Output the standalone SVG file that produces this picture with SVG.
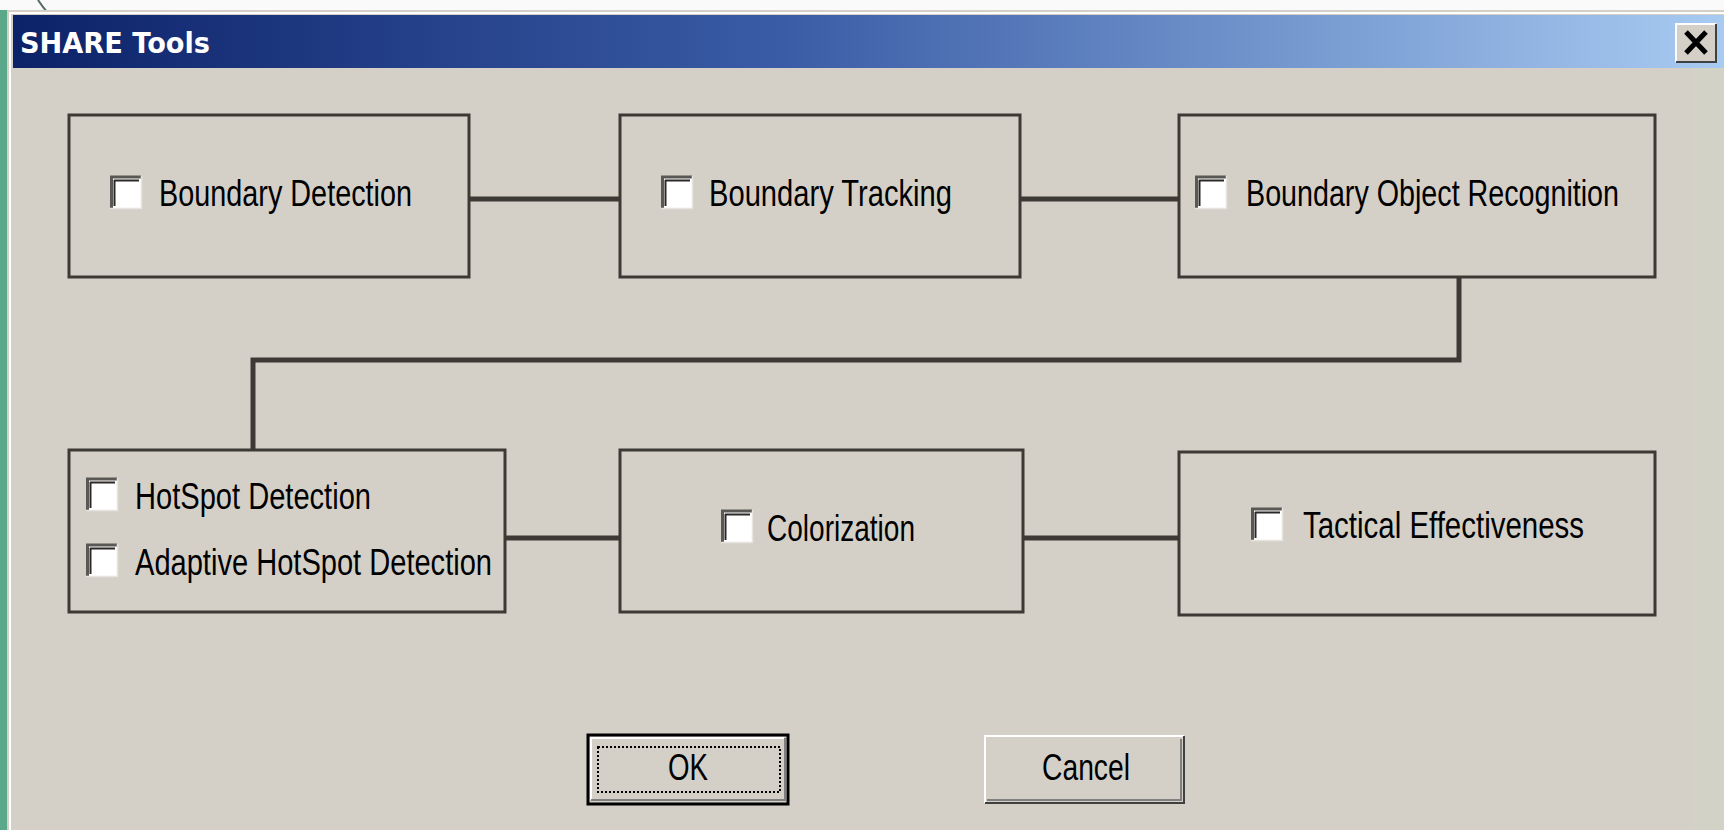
<svg xmlns="http://www.w3.org/2000/svg" width="1724" height="830" viewBox="0 0 1724 830">
  <defs>
    <linearGradient id="titleGrad" x1="0" y1="0" x2="1" y2="0">
      <stop offset="0" stop-color="#0c2268"/>
      <stop offset="0.45" stop-color="#3a5ca6"/>
      <stop offset="1" stop-color="#a8cbf2"/>
    </linearGradient>
    <!-- sunken Win32 style checkbox, 32x33 -->
    <symbol id="checkbox" viewBox="0 0 32 33" width="32" height="33" overflow="visible">
      <rect x="0" y="0" width="32" height="33" fill="#ffffff"/>
      <path d="M31 1 H1.5 V32" fill="none" stroke="#5a5854" stroke-width="3"/>
      <path d="M4 4.5 H29 M4.5 4 V30" fill="none" stroke="#2a2826" stroke-width="2"/>
      <path d="M0 32.5 H32 M31.5 0 V33" fill="none" stroke="#e6e4de" stroke-width="1.5"/>
    </symbol>
  </defs>
  <style>
    .label { font-family: "Liberation Sans", Arial, sans-serif; font-size: 36px; fill: #000000; }
    .title { font-family: "DejaVu Sans", "Liberation Sans", sans-serif; font-size: 28px; font-weight: bold; fill: #ffffff; }
    .node { fill: #d4d0c8; stroke: #3d3935; stroke-width: 3; }
    .wire { fill: none; stroke: #3d3935; stroke-width: 5; }
  </style>

  <!-- desktop and window frame -->
  <rect x="0" y="0" width="1724" height="830" fill="#fafafa"/>
  <rect x="0" y="10" width="7" height="820" fill="#5aa88a"/>
  <path d="M38 0 Q42 6 47 12" fill="none" stroke="#4f6b63" stroke-width="2"/>
  <rect x="7" y="10" width="1717" height="820" fill="#d4d0c8"/>
  <rect x="9" y="12" width="1715" height="2" fill="#ffffff"/>
  <rect x="9" y="12" width="2" height="818" fill="#ffffff"/>
  <rect x="1694" y="68" width="30" height="762" fill="#d2d2c6"/>

  <!-- title bar -->
  <rect x="13" y="15" width="1711" height="53" fill="url(#titleGrad)"/>
  <text class="title" x="20" y="53" textLength="190" lengthAdjust="spacingAndGlyphs">SHARE Tools</text>
  <g id="close-button">
    <rect x="1675" y="23" width="42" height="40" fill="#d4d0c8"/>
    <path d="M1676 62 V24 H1716" fill="none" stroke="#ffffff" stroke-width="2"/>
    <path d="M1676 62 H1716 V24" fill="none" stroke="#404040" stroke-width="2"/>
    <path d="M1686 32 L1706 53 M1706 32 L1686 53" stroke="#000000" stroke-width="5"/>
  </g>

  <!-- connectors -->
  <g id="connectors">
    <line class="wire" x1="470" y1="199" x2="620" y2="199"/>
    <line class="wire" x1="1020" y1="199" x2="1179" y2="199"/>
    <polyline class="wire" points="1459,277 1459,360 253,360 253,449"/>
    <line class="wire" x1="505" y1="538" x2="620" y2="538"/>
    <line class="wire" x1="1023" y1="538" x2="1179" y2="538"/>
  </g>

  <!-- nodes -->
  <g id="boundary-detection">
    <rect class="node" x="69" y="115" width="400" height="162"/>
    <use href="#checkbox" x="110" y="176"/>
    <text class="label" x="159" y="206" textLength="253" lengthAdjust="spacingAndGlyphs">Boundary Detection</text>
  </g>

  <g id="boundary-tracking">
    <rect class="node" x="620" y="115" width="400" height="162"/>
    <use href="#checkbox" x="661" y="176"/>
    <text class="label" x="709" y="206" textLength="243" lengthAdjust="spacingAndGlyphs">Boundary Tracking</text>
  </g>

  <g id="boundary-object-recognition">
    <rect class="node" x="1179" y="115" width="476" height="162"/>
    <use href="#checkbox" x="1195" y="176"/>
    <text class="label" x="1246" y="206" textLength="373" lengthAdjust="spacingAndGlyphs">Boundary Object Recognition</text>
  </g>

  <g id="hotspot-detection">
    <rect class="node" x="69" y="450" width="436" height="162"/>
    <use href="#checkbox" x="86" y="478"/>
    <text class="label" x="135" y="509" textLength="236" lengthAdjust="spacingAndGlyphs">HotSpot Detection</text>
    <use href="#checkbox" x="86" y="544"/>
    <text class="label" x="135" y="575" textLength="357" lengthAdjust="spacingAndGlyphs">Adaptive HotSpot Detection</text>
  </g>

  <g id="colorization">
    <rect class="node" x="620" y="450" width="403" height="162"/>
    <use href="#checkbox" x="721" y="510"/>
    <text class="label" x="767" y="541" textLength="148" lengthAdjust="spacingAndGlyphs">Colorization</text>
  </g>

  <g id="tactical-effectiveness">
    <rect class="node" x="1179" y="452" width="476" height="163"/>
    <use href="#checkbox" x="1251" y="508"/>
    <text class="label" x="1303" y="538" textLength="281" lengthAdjust="spacingAndGlyphs">Tactical Effectiveness</text>
  </g>

  <!-- dialog buttons -->
  <g id="ok-button">
    <rect x="588" y="735" width="200" height="69" fill="#d4d0c8" stroke="#000000" stroke-width="3"/>
    <path d="M591 800 V738 H784" fill="none" stroke="#ffffff" stroke-width="2"/>
    <path d="M591 800 H785 V738" fill="none" stroke="#808080" stroke-width="2"/>
    <rect x="598" y="747" width="182" height="45" fill="none" stroke="#000000" stroke-width="2" stroke-dasharray="2 2"/>
    <text class="label" x="668" y="780" textLength="40" lengthAdjust="spacingAndGlyphs">OK</text>
  </g>

  <g id="cancel-button">
    <rect x="984" y="735" width="201" height="69" fill="#d4d0c8"/>
    <path d="M985 803 V736 H1184" fill="none" stroke="#ffffff" stroke-width="2"/>
    <path d="M985 803 H1184 V736" fill="none" stroke="#404040" stroke-width="2"/>
    <path d="M987 800 H1181 V739" fill="none" stroke="#808080" stroke-width="2"/>
    <text class="label" x="1042" y="780" textLength="88" lengthAdjust="spacingAndGlyphs">Cancel</text>
  </g>
</svg>
